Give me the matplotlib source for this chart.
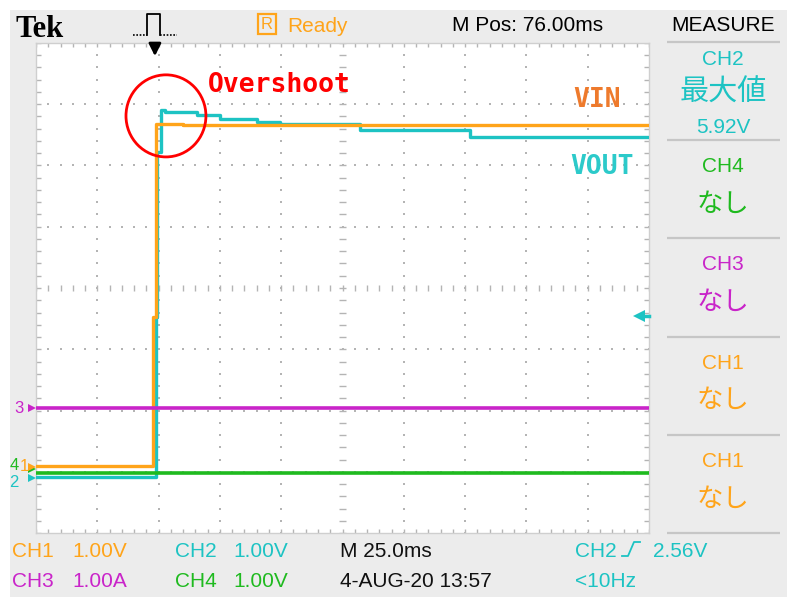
import numpy as np
import matplotlib
matplotlib.use('Agg')
import matplotlib.pyplot as plt
from matplotlib import font_manager
from matplotlib.patches import Rectangle, Ellipse

### data (time in ms across the screen, 25 ms/div, values in volts / amps)
vin_t = [0, 47.7, 48.9, 60.0, 250]
vin_v = [0.02, 2.45, 5.60, 5.58, 5.58]

vout_t = [0, 48.9, 49.3, 51.0, 52.6, 65.7, 75.0, 90.1, 99.5, 132.1, 177.0, 250]
vout_v = [-0.07, 2.55, 5.24, 5.92, 5.89, 5.85, 5.78, 5.73, 5.70, 5.60, 5.49, 5.49]

ch3_t = [0, 250]
ch3_i = [0.0, 0.0]
ch4_t = [0, 250]
ch4_v = [0.0, 0.0]

# channel ground levels (div from bottom) and settings
gnd = {'CH1': 1.08, 'CH2': 0.98, 'CH3': 2.04, 'CH4': 0.98}
trig_t = 48.5
trig_level = 2.56

bottom_row1 = [('CH1', 12, 'orange'), ('1.00V', 72, 'orange'), ('CH2', 175, 'cyan'),
               ('1.00V', 233, 'cyan'), ('M 25.0ms', 340, 'k'), ('CH2', 575, 'cyan'),
               ('2.56V', 653, 'cyan')]
bottom_row2 = [('CH3', 12, 'mag'), ('1.00A', 72, 'mag'), ('CH4', 175, 'green'),
               ('1.00V', 233, 'green'), ('4-AUG-20 13:57', 340, 'k'), ('<10Hz', 575, 'cyan')]
panel = [('CH4', 'なし', 'green'), ('CH3', 'なし', 'mag'), ('CH1', 'なし', 'orange'), ('CH1', 'なし', 'orange')]

### styles
col = {'orange': '#FFA41A', 'cyan': '#1DC3C3', 'mag': '#C924C9', 'green': '#1FBA1F', 'k': '#111111'}
names = {f.name for f in font_manager.fontManager.ttflist}
MONO = 'Noto Sans Mono CJK JP' if 'Noto Sans Mono CJK JP' in names else 'DejaVu Sans Mono'
MONO_SIZE = 22 if MONO.startswith('Noto') else 19
plt.rcParams['font.family'] = ['Liberation Sans', 'Noto Sans CJK JP', 'DejaVu Sans']

W, H = 787, 597
GX0, GX1, GY0, GY1 = 36, 649, 43, 533

fig = plt.figure(figsize=(7.87, 5.97), dpi=100)

# background / chrome in pixel coords
bg = fig.add_axes([0, 0, 1, 1])
bg.set_xlim(0, W)
bg.set_ylim(H, 0)
bg.axis('off')
bg.add_patch(Rectangle((10, 10), W - 10, H - 10, color='#ececec', lw=0))

bg.text(16, 37, 'Tek', family='Liberation Serif', weight='bold', fontsize=22, color='k')
# trigger pulse icon
bg.plot([133, 147], [35, 35], color='k', lw=1.2, ls=(0, (1, 1)))
bg.plot([147, 147, 160, 160], [35, 14, 14, 35], color='k', lw=1.3)
bg.plot([160, 177], [35, 35], color='k', lw=1.2, ls=(0, (1, 1)))
bg.add_patch(Rectangle((258, 14), 18, 20, fill=False, ec=col['orange'], lw=1.6))
bg.text(267, 24.5, 'R', color=col['orange'], fontsize=12, ha='center', va='center')
bg.text(287, 32, 'Ready', color=col['orange'], fontsize=15)
bg.text(452, 31, 'M Pos: 76.00ms', color='k', fontsize=15)
bg.text(723, 31, 'MEASURE', color='k', fontsize=15, ha='center')

# right measurement panel
bg.hlines([42, 140, 238, 337, 435, 533], 667, 780, color='#c6c6c6', lw=1.6)
bg.text(723, 65, 'CH2', color=col['cyan'], fontsize=15, ha='center')
bg.text(723, 93, '最大値', color=col['cyan'], fontsize=21, ha='center', va='center', family='Noto Sans CJK JP')
bg.text(723, 133, '5.92V', color=col['cyan'], fontsize=15, ha='center')
for k, (ch, val, c) in enumerate(panel):
    top = 140 + k * 98.3
    bg.text(723, top + 32, ch, color=col[c], fontsize=15, ha='center')
    bg.text(723, top + 64, val, color=col[c], fontsize=19, ha='center', va='center', family='Noto Sans CJK JP')

for txt, x, c in bottom_row1:
    bg.text(x, 557, txt, color=col[c], fontsize=15)
for txt, x, c in bottom_row2:
    bg.text(x, 587, txt, color=col[c], fontsize=15)
# rising edge symbol
bg.plot([622, 628, 634, 640], [556, 556, 542, 542], color=col['cyan'], lw=1.3)

# channel ground markers on the left
def ypx(div):
    return GY1 - div * (GY1 - GY0) / 8.0

for ch, dx, dy, c in [('CH2', 14, 10, 'cyan'), ('CH4', 14, -7, 'green'), ('CH1', 24, 0, 'orange'), ('CH3', 19, 0, 'mag')]:
    y = ypx(gnd[ch]) + dy
    bg.text(dx, y, ch[-1], color=col[c], fontsize=12, ha='center', va='center')
    bg.plot([32], [ypx(gnd[ch]) + dy / 2], marker='>', color=col[c], ms=6, mew=0)

### graticule
ax = fig.add_axes([GX0 / W, 1 - GY1 / H, (GX1 - GX0) / W, (GY1 - GY0) / H], zorder=2)
ax.set_xlim(0, 250)
ax.set_ylim(0, 8)
ax.set_xticks([])
ax.set_yticks([])
ax.set_facecolor('white')
for s in ax.spines.values():
    s.set_color('#cfcfcf')
    s.set_linewidth(1.0)

xm = np.arange(0, 250.01, 5)
ym = np.arange(0, 8.01, 0.2)
dot = '#b4b4b4'
for i in range(1, 10):
    if i != 5:
        ax.scatter([i * 25] * len(ym), ym, s=2.2, marker='s', c=dot, lw=0)
for j in range(1, 8):
    if j != 4:
        ax.scatter(xm, [j] * len(xm), s=2.2, marker='s', c=dot, lw=0)
ax.hlines(ym, 125 - 1.4, 125 + 1.4, color=dot, lw=1)
ax.vlines(xm, 4 - 0.05, 4 + 0.05, color=dot, lw=1)
ax.vlines(xm, 8 - 0.07, 8, color=dot, lw=1)
ax.vlines(xm, 0, 0.07, color=dot, lw=1)
ax.hlines(ym, 0, 2.0, color=dot, lw=1)
ax.hlines(ym, 248, 250, color=dot, lw=1)

### traces
ax.plot(vout_t, np.array(vout_v) + gnd['CH2'], drawstyle='steps-post', color=col['cyan'], lw=2.4, zorder=3)
ax.plot(vin_t, np.array(vin_v) + gnd['CH1'], drawstyle='steps-post', color=col['orange'], lw=2.4, zorder=4)
ax.plot(ch4_t, np.array(ch4_v) + gnd['CH4'], color=col['green'], lw=2.6, zorder=4)
ax.plot(ch3_t, np.array(ch3_i) + gnd['CH3'], color=col['mag'], lw=2.6, zorder=5)

# trigger markers
ax.plot([247.5, 250], [trig_level + gnd['CH2']] * 2, color=col['cyan'], lw=2.5, clip_on=False, zorder=6)
ax.plot([246], [trig_level + gnd['CH2']], marker='<', color=col['cyan'], ms=8, mew=0, clip_on=False, zorder=6)
ax.annotate('', xy=(trig_t, 7.74), xytext=(trig_t, 8.02),
            arrowprops=dict(arrowstyle='-|>', color='k', lw=2, mutation_scale=18), annotation_clip=False)

### annotations
ax.add_patch(Ellipse((53.0, 6.81), 32.6, 1.34, fill=False, ec='#FF0000', lw=2, zorder=7))
ax.text(70.1, 7.31, 'Overshoot', color='#FF0000', family=MONO, weight='bold', fontsize=MONO_SIZE, va='center', zorder=7)
ax.text(219.0, 7.07, 'VIN', color='#EE7A2C', family=MONO, weight='bold', fontsize=MONO_SIZE, va='center', zorder=7)
ax.text(217.8, 5.98, 'VOUT', color='#2CCACA', family=MONO, weight='bold', fontsize=MONO_SIZE, va='center', zorder=7)

fig.savefig('out.png', dpi=100)
